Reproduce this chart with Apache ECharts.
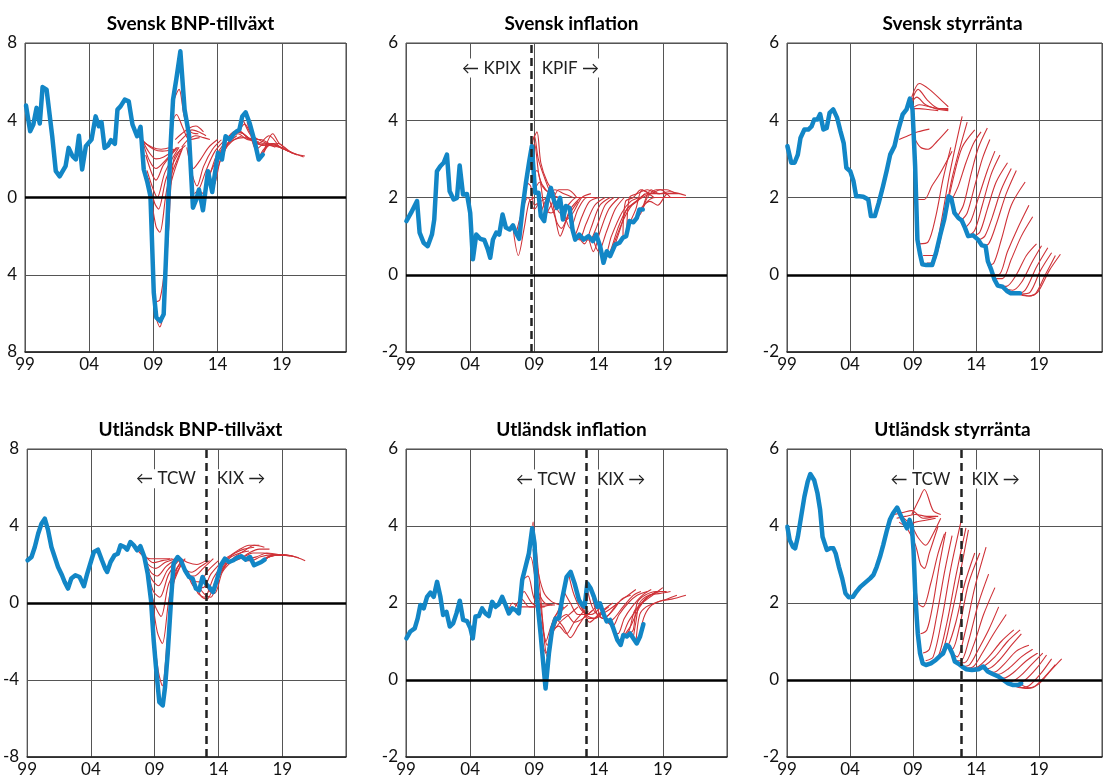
<!DOCTYPE html>
<html>
<head>
<meta charset="utf-8">
<script src="https://cdn.jsdelivr.net/npm/echarts@6/dist/echarts.min.js"></script>
<style>
  html, body { margin: 0; padding: 0; background: #fff; }
  #c { width: 1105px; height: 783px; }
</style>
</head>
<body>
<div id="c"></div>
<script>
// ---- Panel titles ----
const titles = ['Svensk BNP-tillväxt', 'Svensk inflation', 'Svensk styrränta',
                'Utländsk BNP-tillväxt', 'Utländsk inflation', 'Utländsk styrränta'];

// ---- X axis (years) ----
const yearMin = 1999, yearMax = 2024, yearStep = 5;

// ---- Regime breaks ----
const kpifStart = 2008.75;          // KPIX -> KPIF
const kixStart = [2013.05, 2013.05, 2012.8]; // TCW -> KIX (per foreign panel)

// ---- Svensk BNP-tillväxt: outcome [year, %] ----
const seGdpOutcome = [[1999.08,4.76],[1999.4,3.43],[1999.65,3.78],[1999.9,4.64],[2000.15,3.83],[2000.37,5.72],[2000.68,5.59],[2001.12,3.17],[2001.4,1.36],[2001.7,1.1],[2002.16,1.62],[2002.4,2.57],[2002.7,2.14],[2002.96,1.97],[2003.2,3.2],[2003.45,1.45],[2003.74,2.66],[2004.18,3.0],[2004.5,4.2],[2004.75,3.69],[2004.96,3.9],[2005.2,2.57],[2005.47,2.7],[2005.7,2.97],[2006.0,2.78],[2006.2,4.55],[2006.44,4.72],[2006.77,5.07],[2007.08,4.98],[2007.37,3.78],[2007.73,3.17],[2008.0,3.66],[2008.25,1.45],[2008.53,0.79],[2008.77,0.07],[2009.03,-4.93],[2009.23,-6.22],[2009.54,-6.4],[2009.8,-6.05],[2010.06,-1.83],[2010.35,2.83],[2010.53,5.07],[2010.8,6.19],[2011.1,7.57],[2011.43,4.55],[2011.77,3.26],[2012.08,-0.53],[2012.34,-0.1],[2012.55,0.41],[2012.86,-0.66],[2013.25,1.36],[2013.58,0.28],[2014.03,2.31],[2014.34,1.97],[2014.62,3.17],[2014.93,3.0],[2015.32,3.34],[2015.7,3.52],[2015.92,4.2],[2016.18,4.41],[2016.49,3.86],[2016.88,2.91],[2017.2,1.97],[2017.52,2.22]];
const seGdpForecasts = [
  [[2007.6,3.4],[2008.2,2.9],[2008.9,2.6],[2009.6,2.5],[2010.4,2.6]],
  [[2007.8,3.3],[2008.4,2.8],[2009.0,2.5],[2009.7,2.4],[2010.6,2.5]],
  [[2008.0,3.2],[2008.6,2.4],[2009.2,2.0],[2009.8,2.1],[2010.7,2.5]],
  [[2008.2,2.8],[2008.7,1.9],[2009.2,1.5],[2009.9,1.9],[2010.8,2.6]],
  [[2008.4,2.2],[2008.9,1.2],[2009.2,0.9],[2009.8,1.7],[2010.9,2.6]],
  [[2008.5,1.4],[2009.0,0.4],[2009.3,0.0],[2009.9,1.3],[2011.0,2.6]],
  [[2008.6,1.0],[2009.1,-0.3],[2009.4,-0.6],[2010.0,1.0],[2011.1,2.5]],
  [[2008.7,0.6],[2009.2,-1.5],[2009.5,-1.8],[2010.1,0.6],[2011.2,2.5]],
  [[2008.9,-0.8],[2009.2,-5.4],[2009.5,-5.3],[2009.9,-3.5],[2010.3,0.5],[2011.3,2.6]],
  [[2009.1,-6.0],[2009.5,-6.7],[2009.8,-5.8],[2010.2,-1.5],[2010.6,2.0],[2011.5,2.7]],
  [[2010.5,4.9],[2011.0,5.6],[2011.4,4.2],[2011.9,3.4],[2012.5,3.3]],
  [[2010.3,3.5],[2010.8,4.3],[2011.3,3.6],[2011.8,3.0],[2012.6,3.1]],
  [[2010.7,3.0],[2011.2,3.3],[2011.8,3.6],[2012.3,3.7],[2012.9,3.4]],
  [[2010.9,2.8],[2011.5,3.2],[2012.0,3.5],[2012.5,3.4],[2013.1,3.2]],
  [[2011.2,2.6],[2011.7,3.0],[2012.3,3.2],[2012.9,3.1],[2013.4,3.0]],
  [[2011.6,2.6],[2012.1,1.5],[2012.6,1.9],[2013.3,2.6],[2014.0,3.0]],
  [[2011.9,1.5],[2012.4,0.6],[2012.9,1.6],[2013.6,2.5],[2014.3,3.0]],
  [[2012.2,0.2],[2012.6,0.5],[2013.1,1.4],[2013.8,2.4],[2014.6,3.0]],
  [[2012.5,0.4],[2012.9,0.2],[2013.4,1.2],[2014.0,2.3],[2014.9,3.1]],
  [[2012.9,-0.4],[2013.3,1.0],[2013.8,1.8],[2014.5,2.6],[2015.2,3.1]],
  [[2013.3,1.3],[2013.7,0.6],[2014.2,1.9],[2014.8,2.8],[2015.5,3.2]],
  [[2013.6,0.5],[2014.0,1.5],[2014.5,2.4],[2015.1,2.9],[2015.9,3.2]],
  [[2014.1,2.3],[2014.6,2.7],[2015.3,3.0],[2016.0,3.1],[2016.9,3.0]],
  [[2014.4,2.1],[2014.9,2.9],[2015.6,3.3],[2016.3,3.0],[2017.2,2.9]],
  [[2014.7,3.0],[2015.3,3.4],[2016.0,3.3],[2016.8,2.9],[2017.6,2.8]],
  [[2015.0,3.0],[2015.5,3.5],[2016.2,3.2],[2017.0,2.8],[2017.9,2.7]],
  [[2015.3,3.3],[2015.8,3.4],[2016.5,3.0],[2017.3,3.0],[2018.2,2.7]],
  [[2015.7,3.5],[2016.1,3.8],[2016.7,3.2],[2017.5,2.9],[2018.5,2.6]],
  [[2016.0,4.0],[2016.5,3.3],[2017.2,2.8],[2018.0,3.2],[2018.8,2.6]],
  [[2016.3,3.9],[2016.8,3.0],[2017.5,2.7],[2018.2,2.8],[2019.1,2.5]],
  [[2016.6,3.2],[2017.0,2.5],[2017.7,2.8],[2018.5,2.7],[2019.5,2.4]],
  [[2016.9,2.6],[2017.3,2.0],[2018.0,2.7],[2018.8,2.6],[2019.8,2.3]],
  [[2017.2,2.0],[2017.6,2.5],[2018.3,2.8],[2019.2,2.5],[2020.2,2.2]],
  [[2017.5,2.3],[2018.0,2.7],[2018.7,2.8],[2019.6,2.4],[2020.7,2.1]],
  [[2017.6,2.4],[2018.3,3.3],[2018.8,2.8],[2019.8,2.3],[2020.8,2.15]]
];

// ---- Svensk inflation ----
const seCpiOutcome = [[1999.03,1.39],[1999.39,1.6],[1999.86,1.91],[2000.06,1.09],[2000.37,0.83],[2000.69,0.74],[2001.02,1.04],[2001.2,1.43],[2001.41,2.68],[2001.67,2.81],[2001.93,2.9],[2002.19,3.11],[2002.4,2.16],[2002.71,1.95],[2002.97,1.99],[2003.18,2.83],[2003.44,2.08],[2003.75,2.09],[2004.0,1.6],[2004.21,0.4],[2004.47,1.04],[2004.78,0.93],[2005.1,0.9],[2005.36,0.67],[2005.56,0.44],[2005.77,0.91],[2006.03,1.09],[2006.26,1.04],[2006.52,1.56],[2006.78,1.22],[2007.07,1.17],[2007.33,1.28],[2007.56,1.09],[2007.82,0.93],[2008.08,1.73],[2008.34,2.38],[2008.6,2.94],[2008.8,3.33],[2009.06,2.12],[2009.32,2.12],[2009.5,1.52],[2009.76,1.39],[2009.97,1.86],[2010.28,2.25],[2010.54,1.91],[2010.75,1.73],[2011.0,1.99],[2011.22,1.43],[2011.45,1.78],[2011.74,1.73],[2011.97,1.17],[2012.18,0.91],[2012.49,1.04],[2012.83,0.91],[2013.22,1.0],[2013.55,0.87],[2013.81,1.04],[2014.12,0.74],[2014.38,0.31],[2014.64,0.61],[2014.9,0.48],[2015.29,0.78],[2015.63,0.83],[2015.89,0.96],[2016.15,1.0],[2016.41,1.39],[2016.72,1.36],[2016.98,1.47],[2017.18,1.69],[2017.44,1.69]];
const seCpiForecasts = [
  [[2007.3,1.3],[2007.75,0.5],[2008.2,1.2],[2008.6,1.9],[2009.0,2.0]],
  [[2007.6,1.1],[2008.0,1.6],[2008.5,2.0],[2009.0,1.7],[2009.5,2.0]],
  [[2008.3,2.4],[2008.7,2.3],[2009.0,1.8],[2009.5,1.9],[2010.0,2.0]],
  [[2008.8,3.3],[2009.0,3.6],[2009.3,3.0],[2009.8,2.5],[2010.3,2.1],[2010.8,2.0]],
  [[2008.9,3.5],[2009.2,3.7],[2009.5,2.9],[2010.0,2.4],[2010.6,2.1]],
  [[2008.7,3.0],[2009.0,3.4],[2009.4,2.5],[2009.9,2.2],[2010.5,2.1]],
  [[2008.9,2.6],[2009.2,2.7],[2009.6,2.3],[2010.2,2.1],[2010.9,2.0]],
  [[2009.0,2.2],[2009.4,2.4],[2009.8,1.7],[2010.3,1.6],[2011.0,1.9]],
  [[2009.5,1.6],[2010.0,2.0],[2010.6,2.2],[2011.3,2.1],[2012.0,2.0]],
  [[2009.8,1.5],[2010.3,1.8],[2010.9,2.2],[2011.6,2.2],[2012.3,2.0]],
  [[2010.1,2.0],[2010.6,1.5],[2011.0,1.0],[2011.6,1.5],[2012.4,1.9]],
  [[2010.3,2.2],[2010.7,1.4],[2011.1,1.2],[2011.8,1.7],[2012.6,2.0]],
  [[2010.6,1.9],[2011.0,1.6],[2011.6,1.8],[2012.3,2.0],[2013.0,2.0]],
  [[2011.0,2.0],[2011.4,1.4],[2012.0,1.6],[2012.7,2.0],[2013.4,2.1]],
  [[2011.3,1.6],[2011.8,1.2],[2012.4,1.7],[2013.1,2.0],[2013.8,2.0]],
  [[2011.7,1.6],[2012.1,1.0],[2012.7,1.5],[2013.3,1.9],[2014.1,2.0]],
  [[2012.0,1.2],[2012.5,0.9],[2013.0,1.3],[2013.7,1.8],[2014.5,2.0]],
  [[2012.4,1.0],[2012.9,0.8],[2013.4,1.2],[2014.1,1.8],[2014.9,2.0]],
  [[2012.8,0.9],[2013.3,0.9],[2013.8,1.2],[2014.5,1.8],[2015.2,2.0]],
  [[2013.2,1.0],[2013.6,0.6],[2014.1,1.1],[2014.8,1.7],[2015.6,2.0]],
  [[2013.6,0.9],[2014.0,0.6],[2014.6,1.1],[2015.3,1.7],[2016.0,2.0]],
  [[2014.1,0.7],[2014.5,0.5],[2015.0,1.0],[2015.8,1.6],[2016.5,1.9],[2017.2,2.0]],
  [[2014.5,0.4],[2014.9,0.6],[2015.5,1.2],[2016.2,1.7],[2017.0,1.9],[2017.6,2.1]],
  [[2014.9,0.5],[2015.3,0.9],[2015.9,1.4],[2016.6,1.8],[2017.4,2.0],[2018.0,2.1]],
  [[2015.3,0.8],[2015.7,1.2],[2016.2,1.7],[2016.9,1.9],[2017.8,2.1],[2018.3,2.0]],
  [[2015.9,1.0],[2016.1,1.9],[2016.7,2.0],[2017.3,2.2],[2018.1,2.1],[2018.8,2.1]],
  [[2016.2,1.0],[2016.4,2.0],[2017.0,2.1],[2017.8,2.2],[2018.6,2.1],[2019.3,2.1]],
  [[2016.5,1.4],[2016.9,1.7],[2017.4,2.2],[2018.0,2.1],[2018.8,2.2],[2019.6,2.0]],
  [[2016.8,1.4],[2017.3,1.6],[2017.8,2.0],[2018.5,2.2],[2019.3,2.2],[2020.0,2.1]],
  [[2017.1,1.6],[2017.5,1.8],[2018.0,1.9],[2018.6,1.8],[2019.4,2.1],[2020.3,2.1]],
  [[2017.4,1.7],[2017.8,1.9],[2018.4,2.0],[2019.2,2.0],[2020.0,2.0],[2020.8,2.0]],
  [[2017.5,1.8],[2018.1,2.2],[2018.7,2.1],[2019.5,2.15],[2020.3,2.1],[2020.8,2.05]]
];

// ---- Svensk styrränta ----
const seRateOutcome = [[1999.03,3.33],[1999.34,2.9],[1999.6,2.9],[1999.86,3.11],[2000.07,3.54],[2000.38,3.76],[2000.69,3.76],[2000.95,3.84],[2001.16,4.02],[2001.42,4.02],[2001.63,4.16],[2001.89,3.76],[2002.15,3.8],[2002.38,4.19],[2002.67,4.28],[2002.98,4.06],[2003.24,3.72],[2003.5,3.41],[2003.71,2.77],[2004.02,2.68],[2004.28,2.42],[2004.49,2.03],[2004.75,2.03],[2005.06,2.02],[2005.45,1.95],[2005.66,1.52],[2005.97,1.52],[2006.28,1.86],[2006.62,2.29],[2006.93,2.72],[2007.19,3.11],[2007.53,3.33],[2007.84,3.76],[2008.18,4.15],[2008.49,4.28],[2008.75,4.56],[2008.96,4.28],[2009.17,2.81],[2009.35,0.91],[2009.56,0.53],[2009.74,0.27],[2010.05,0.25],[2010.52,0.25],[2010.83,0.57],[2011.17,1.04],[2011.48,1.43],[2011.82,2.03],[2012.03,1.99],[2012.29,1.6],[2012.6,1.47],[2012.86,1.41],[2013.12,1.22],[2013.38,1.0],[2013.77,1.02],[2014.16,0.91],[2014.47,0.76],[2014.76,0.74],[2014.94,0.35],[2015.2,0.14],[2015.46,-0.12],[2015.72,-0.28],[2016.11,-0.31],[2016.45,-0.42],[2016.76,-0.48],[2017.15,-0.48],[2017.49,-0.48]];
const seRateForecasts = [
  [[2008.9,4.6],[2009.5,4.95],[2010.3,4.8],[2011.3,4.5],[2011.8,4.35]],
  [[2008.9,4.5],[2009.4,4.8],[2010.2,4.5],[2011.1,4.3],[2011.8,4.3]],
  [[2008.8,4.4],[2009.3,4.6],[2010.0,4.4],[2010.8,4.3],[2011.8,4.25]],
  [[2008.9,4.3],[2009.5,4.4],[2010.3,4.35],[2011.0,4.3],[2011.8,4.28]],
  [[2008.9,4.3],[2009.5,4.3],[2010.2,4.28],[2011.0,4.25]],
  [[2007.9,3.5],[2008.6,3.6],[2009.4,3.7],[2010.3,3.77]],
  [[2009.1,3.55],[2009.6,3.3],[2010.2,3.25],[2010.9,3.45],[2011.8,3.77]],
  [[2009.35,1.95],[2009.9,1.95],[2010.5,2.3],[2011.1,2.6],[2012.1,3.2]],
  [[2009.5,0.8],[2010.2,0.85],[2010.8,1.5],[2011.4,2.5],[2012.0,3.3]],
  [[2009.8,0.5],[2010.6,0.5],[2011.2,1.3],[2011.9,2.6],[2012.9,4.1]],
  [[2010.1,0.3],[2010.7,0.35],[2011.3,1.1],[2012.1,2.5],[2013.3,3.95]],
  [[2011.2,1.0],[2011.6,1.6],[2012.2,2.5],[2012.9,3.3],[2013.9,3.75]],
  [[2012.1,1.95],[2012.6,2.3],[2013.2,2.9],[2013.8,3.4],[2014.4,3.7]],
  [[2012.5,1.5],[2013.0,1.8],[2013.6,2.6],[2014.2,3.3],[2014.9,3.8]],
  [[2012.8,1.4],[2013.3,1.6],[2013.9,2.3],[2014.5,3.0],[2015.1,3.5]],
  [[2013.1,1.2],[2013.6,1.4],[2014.2,2.0],[2014.9,2.7],[2015.5,3.2]],
  [[2013.4,1.0],[2013.9,1.15],[2014.5,1.8],[2015.2,2.6],[2015.9,3.1]],
  [[2013.8,1.0],[2014.3,1.1],[2014.9,1.7],[2015.6,2.4],[2016.5,2.9]],
  [[2014.2,0.9],[2014.7,1.0],[2015.3,1.5],[2016.0,2.2],[2016.8,2.75]],
  [[2014.5,0.75],[2015.0,0.8],[2015.6,1.3],[2016.4,2.1],[2017.2,2.7]],
  [[2014.9,0.25],[2015.4,0.3],[2016.0,0.9],[2016.8,1.8],[2017.9,2.4]],
  [[2015.2,0.0],[2015.8,0.0],[2016.5,0.6],[2017.3,1.2],[2018.2,1.8]],
  [[2015.5,-0.1],[2016.1,-0.1],[2016.8,0.4],[2017.6,1.0],[2018.5,1.5]],
  [[2015.8,-0.3],[2016.4,-0.3],[2017.2,0.0],[2018.0,0.5],[2018.8,0.8]],
  [[2016.2,-0.35],[2016.9,-0.4],[2017.6,-0.2],[2018.4,0.3],[2019.2,0.75]],
  [[2016.5,-0.45],[2017.2,-0.5],[2017.9,-0.4],[2018.8,0.2],[2019.7,0.7]],
  [[2016.9,-0.5],[2017.6,-0.5],[2018.3,-0.45],[2019.1,0.1],[2020.0,0.57]],
  [[2017.3,-0.5],[2018.0,-0.55],[2018.7,-0.5],[2019.5,0.0],[2020.3,0.5]],
  [[2017.5,-0.5],[2018.2,-0.55],[2018.9,-0.45],[2019.8,0.1],[2020.7,0.53]]
];

// ---- Utländsk BNP-tillväxt ----
const fgnGdpOutcome = [[1999.03,2.22],[1999.34,2.39],[1999.6,2.91],[1999.86,3.6],[2000.12,4.12],[2000.38,4.38],[2000.64,3.78],[2000.9,2.91],[2001.16,2.39],[2001.42,1.87],[2001.73,1.44],[2001.94,1.09],[2002.2,0.75],[2002.46,1.27],[2002.78,1.44],[2003.11,1.35],[2003.45,0.87],[2003.71,1.53],[2004.03,2.22],[2004.23,2.65],[2004.55,2.77],[2004.86,2.22],[2005.12,1.79],[2005.27,1.61],[2005.54,2.13],[2005.85,2.48],[2006.11,2.56],[2006.32,3.0],[2006.63,2.91],[2006.84,2.77],[2007.1,3.17],[2007.36,3.0],[2007.62,2.74],[2007.88,2.95],[2008.19,2.39],[2008.45,1.53],[2008.71,0.14],[2008.92,-1.94],[2009.1,-3.33],[2009.36,-5.15],[2009.63,-5.32],[2009.81,-4.37],[2010.02,-2.63],[2010.28,0.14],[2010.48,2.05],[2010.8,2.39],[2011.05,2.22],[2011.37,1.7],[2011.7,1.35],[2011.97,1.27],[2012.23,0.75],[2012.49,0.66],[2012.75,1.35],[2013.01,1.0],[2013.27,0.83],[2013.58,0.57],[2013.87,1.18],[2014.18,1.96],[2014.5,2.3],[2014.83,2.13],[2015.17,2.22],[2015.48,2.36],[2015.8,2.43],[2016.14,2.25],[2016.48,2.39],[2016.79,1.96],[2017.1,2.05],[2017.36,2.13],[2017.62,2.25]];
const fgnGdpForecasts = [
  [[2007.5,2.9],[2008.0,2.5],[2008.7,2.3],[2009.4,2.3],[2010.2,2.3]],
  [[2007.7,2.8],[2008.3,2.4],[2008.9,2.1],[2009.6,2.2],[2010.4,2.3]],
  [[2007.9,2.7],[2008.5,2.0],[2009.1,1.8],[2009.8,2.1],[2010.6,2.3]],
  [[2008.1,2.4],[2008.7,1.6],[2009.2,1.4],[2009.9,1.9],[2010.7,2.3]],
  [[2008.3,2.0],[2008.8,1.2],[2009.3,0.9],[2010.0,1.7],[2010.9,2.3]],
  [[2008.5,1.5],[2008.9,0.6],[2009.4,0.3],[2010.1,1.5],[2011.0,2.3]],
  [[2008.6,1.0],[2009.0,-0.1],[2009.5,-0.7],[2010.1,1.0],[2011.1,2.2]],
  [[2008.8,0.3],[2009.2,-1.5],[2009.6,-2.1],[2010.2,0.5],[2011.2,2.2]],
  [[2008.9,-1.5],[2009.3,-3.6],[2009.6,-4.3],[2010.0,-1.8],[2010.5,1.2],[2011.3,2.2]],
  [[2009.1,-3.0],[2009.5,-5.1],[2009.8,-4.2],[2010.2,-0.5],[2010.7,1.7],[2011.4,2.3]],
  [[2010.5,2.0],[2011.0,2.3],[2011.6,2.1],[2012.3,2.0],[2013.0,2.2]],
  [[2010.8,2.3],[2011.3,1.8],[2011.9,1.6],[2012.6,1.9],[2013.3,2.2]],
  [[2011.0,2.2],[2011.5,1.5],[2012.1,1.4],[2012.8,1.8],[2013.6,2.3]],
  [[2011.4,1.7],[2011.9,1.2],[2012.5,1.1],[2013.2,1.7],[2014.0,2.2]],
  [[2011.7,1.3],[2012.2,0.8],[2012.8,0.8],[2013.4,1.5],[2014.2,2.1]],
  [[2012.0,1.2],[2012.4,0.5],[2012.9,0.3],[2013.6,1.3],[2014.4,2.1]],
  [[2012.3,0.8],[2012.7,0.3],[2013.1,0.2],[2013.8,1.2],[2014.6,2.1]],
  [[2012.6,0.7],[2013.0,0.4],[2013.4,0.3],[2014.0,1.3],[2014.8,2.2]],
  [[2012.9,1.2],[2013.3,0.6],[2013.7,0.5],[2014.3,1.6],[2015.1,2.2]],
  [[2013.6,0.6],[2014.0,1.4],[2014.6,2.0],[2015.3,2.3],[2016.0,2.4]],
  [[2013.9,1.2],[2014.4,2.0],[2015.0,2.4],[2015.7,2.6],[2016.4,2.7]],
  [[2014.2,1.9],[2014.7,2.3],[2015.3,2.6],[2016.0,2.8],[2016.8,2.9]],
  [[2014.5,2.3],[2015.0,2.5],[2015.7,2.8],[2016.4,3.0],[2017.2,3.0]],
  [[2014.8,2.1],[2015.3,2.4],[2016.0,2.7],[2016.8,3.0],[2017.6,2.9]],
  [[2015.2,2.2],[2015.7,2.3],[2016.4,2.6],[2017.2,2.8],[2018.0,2.8]],
  [[2015.5,2.3],[2016.0,2.4],[2016.7,2.6],[2017.5,2.6],[2018.4,2.5]],
  [[2015.8,2.4],[2016.3,2.3],[2017.0,2.4],[2017.8,2.6],[2018.8,2.5]],
  [[2016.1,2.2],[2016.6,2.2],[2017.3,2.4],[2018.1,2.5],[2019.2,2.5]],
  [[2016.5,2.4],[2017.0,2.0],[2017.7,2.3],[2018.5,2.5],[2019.6,2.45]],
  [[2016.8,1.9],[2017.3,2.1],[2018.0,2.4],[2018.9,2.5],[2020.0,2.4]],
  [[2017.1,2.0],[2017.6,2.3],[2018.3,2.5],[2019.2,2.5],[2020.3,2.35]],
  [[2017.4,2.1],[2018.0,2.4],[2018.8,2.5],[2019.7,2.45],[2020.8,2.2]]
];

// ---- Utländsk inflation ----
const fgnCpiOutcome = [[1999.03,1.08],[1999.34,1.26],[1999.68,1.34],[1999.91,1.6],[2000.12,1.95],[2000.38,1.86],[2000.64,2.16],[2000.9,2.27],[2001.16,2.16],[2001.42,2.55],[2001.68,2.16],[2001.89,1.69],[2002.15,1.77],[2002.41,1.39],[2002.67,1.47],[2002.93,1.73],[2003.19,2.06],[2003.45,1.56],[2003.76,1.53],[2004.02,1.34],[2004.2,1.08],[2004.41,1.65],[2004.67,1.66],[2004.93,1.86],[2005.19,1.73],[2005.45,1.66],[2005.71,2.03],[2005.97,1.9],[2006.23,1.97],[2006.49,2.16],[2006.75,1.95],[2007.01,1.73],[2007.27,1.86],[2007.53,1.82],[2007.79,1.73],[2008.05,2.6],[2008.31,2.94],[2008.57,3.29],[2008.83,3.94],[2009.01,3.55],[2009.22,2.08],[2009.48,1.21],[2009.69,0.43],[2009.87,-0.22],[2010.13,0.69],[2010.39,1.34],[2010.65,1.6],[2010.91,1.6],[2011.17,2.12],[2011.51,2.68],[2011.82,2.81],[2012.13,2.51],[2012.47,2.08],[2012.73,1.95],[2012.91,1.9],[2013.12,2.51],[2013.38,2.38],[2013.64,2.16],[2013.9,1.9],[2014.11,1.99],[2014.37,1.73],[2014.63,1.52],[2014.89,1.56],[2015.15,1.34],[2015.46,1.04],[2015.72,0.91],[2015.93,1.17],[2016.19,1.13],[2016.45,1.21],[2016.71,1.08],[2016.97,0.95],[2017.23,1.13],[2017.49,1.45]];
const fgnCpiForecasts = [
  [[2006.9,1.7],[2007.3,2.0],[2007.8,1.9],[2008.4,1.9],[2009.0,1.9]],
  [[2007.5,1.9],[2008.0,2.1],[2008.6,1.9],[2009.2,1.9],[2009.8,1.9]],
  [[2007.8,1.8],[2008.2,2.3],[2008.8,2.0],[2009.5,1.9],[2010.2,1.95]],
  [[2008.1,2.6],[2008.5,2.7],[2009.0,2.1],[2009.6,1.95],[2010.4,1.95]],
  [[2008.3,2.9],[2008.7,3.2],[2009.2,2.4],[2009.8,2.0],[2010.6,1.95]],
  [[2008.6,3.3],[2008.9,4.1],[2009.2,3.0],[2009.7,2.3],[2010.3,2.05],[2011.0,1.95]],
  [[2008.8,3.8],[2009.1,3.5],[2009.5,2.1],[2009.9,1.0],[2010.3,1.4],[2011.0,1.9]],
  [[2008.9,3.4],[2009.2,2.6],[2009.6,1.6],[2010.0,0.6],[2010.5,1.3],[2011.2,1.9]],
  [[2009.2,2.1],[2009.6,1.4],[2010.0,0.9],[2010.5,1.6],[2011.3,1.9]],
  [[2009.5,1.2],[2009.9,0.7],[2010.3,1.1],[2010.9,1.7],[2011.6,1.95]],
  [[2010.0,0.5],[2010.4,1.2],[2011.0,1.5],[2011.7,1.7],[2012.4,1.9]],
  [[2010.4,1.3],[2010.9,1.4],[2011.5,1.2],[2012.1,1.5],[2012.9,1.8]],
  [[2010.7,1.6],[2011.2,1.4],[2011.8,1.1],[2012.4,1.4],[2013.2,1.8]],
  [[2011.0,1.6],[2011.5,1.7],[2012.1,1.5],[2012.8,1.6],[2013.5,1.8]],
  [[2011.3,2.3],[2011.8,2.0],[2012.4,1.7],[2013.0,1.7],[2013.8,1.9]],
  [[2011.7,2.7],[2012.1,2.2],[2012.7,1.8],[2013.4,1.7],[2014.2,1.9]],
  [[2012.0,2.6],[2012.4,2.1],[2013.0,1.7],[2013.7,1.6],[2014.5,1.8]],
  [[2012.4,2.2],[2012.8,1.8],[2013.3,1.5],[2014.0,1.7],[2014.8,1.9]],
  [[2012.8,1.9],[2013.2,1.6],[2013.7,1.6],[2014.3,1.8],[2015.1,2.0]],
  [[2013.1,2.4],[2013.5,1.9],[2014.0,1.7],[2014.7,1.8],[2015.5,2.0]],
  [[2013.5,2.2],[2013.9,1.7],[2014.4,1.6],[2015.1,1.8],[2015.8,2.1],[2016.5,2.2]],
  [[2013.9,1.9],[2014.3,1.6],[2014.8,1.7],[2015.5,2.0],[2016.3,2.2],[2016.9,2.35]],
  [[2014.3,1.7],[2014.7,1.5],[2015.2,1.6],[2015.9,1.9],[2016.7,2.2],[2017.3,2.3]],
  [[2014.7,1.5],[2015.1,1.4],[2015.6,1.7],[2016.3,2.0],[2017.0,2.2],[2017.8,2.3]],
  [[2015.1,1.3],[2015.5,1.2],[2016.0,1.6],[2016.6,1.9],[2017.4,2.2],[2018.1,2.35]],
  [[2015.5,1.0],[2015.8,1.1],[2016.3,1.5],[2016.9,1.8],[2017.6,2.1],[2018.5,2.3]],
  [[2015.8,0.95],[2016.1,1.2],[2016.5,1.4],[2017.2,1.9],[2018.0,2.2],[2018.8,2.3]],
  [[2016.1,1.15],[2016.4,1.3],[2016.8,1.8],[2017.4,2.0],[2018.2,2.2],[2019.0,2.4]],
  [[2016.4,1.2],[2016.7,1.3],[2017.0,2.0],[2017.6,2.2],[2018.5,2.3],[2019.3,2.3]],
  [[2016.7,1.1],[2016.9,1.5],[2017.2,2.0],[2017.9,2.2],[2018.8,2.25],[2019.6,2.3]],
  [[2016.9,0.95],[2017.2,1.7],[2017.7,1.9],[2018.4,2.0],[2019.3,2.1],[2020.1,2.2]],
  [[2017.2,1.1],[2017.5,1.6],[2018.0,1.9],[2018.8,2.05],[2019.7,2.1],[2020.8,2.2]]
];

// ---- Utländsk styrränta ----
const fgnRateOutcome = [[1999.03,3.98],[1999.21,3.64],[1999.47,3.46],[1999.65,3.42],[1999.86,3.72],[2000.12,4.24],[2000.38,4.76],[2000.64,5.15],[2000.85,5.35],[2001.16,5.19],[2001.42,4.85],[2001.63,4.42],[2001.82,3.72],[2002.16,3.38],[2002.42,3.42],[2002.68,3.42],[2002.86,3.29],[2003.12,2.94],[2003.38,2.64],[2003.64,2.25],[2003.9,2.15],[2004.24,2.16],[2004.5,2.29],[2004.82,2.42],[2005.21,2.53],[2005.6,2.64],[2005.86,2.73],[2006.12,2.94],[2006.38,3.2],[2006.64,3.51],[2006.9,3.85],[2007.16,4.16],[2007.42,4.33],[2007.74,4.48],[2008.0,4.29],[2008.26,4.11],[2008.52,3.94],[2008.73,4.16],[2008.91,3.98],[2009.04,3.38],[2009.2,2.08],[2009.38,1.21],[2009.56,0.69],[2009.77,0.43],[2010.03,0.39],[2010.42,0.43],[2010.81,0.52],[2011.13,0.62],[2011.39,0.69],[2011.65,0.91],[2011.86,0.87],[2012.12,0.69],[2012.32,0.48],[2012.58,0.43],[2012.9,0.35],[2013.21,0.28],[2013.68,0.26],[2014.2,0.28],[2014.59,0.35],[2014.93,0.22],[2015.24,0.17],[2015.77,0.09],[2016.16,0.0],[2016.55,-0.09],[2016.94,-0.13],[2017.33,-0.13],[2017.59,-0.09]];
const fgnRateForecasts = [
  [[2007.5,4.3],[2008.2,4.35],[2008.9,4.4],[2009.8,4.2],[2010.8,4.25]],
  [[2007.7,4.2],[2008.4,4.25],[2009.2,4.3],[2010.1,4.25],[2011.0,4.25]],
  [[2007.9,4.1],[2008.5,4.0],[2009.2,4.1],[2010.0,4.15],[2010.8,4.2]],
  [[2008.9,4.3],[2009.5,4.7],[2009.9,4.95],[2010.6,4.4],[2011.2,4.3]],
  [[2008.3,4.2],[2008.9,4.0],[2009.4,3.7],[2010.0,3.5],[2010.6,3.8],[2011.2,4.2]],
  [[2008.6,3.9],[2009.2,3.5],[2009.6,3.0],[2009.9,2.9],[2010.3,3.3],[2011.0,4.0]],
  [[2009.0,3.3],[2009.4,2.0],[2009.8,1.9],[2010.4,2.5],[2011.0,3.3],[2011.5,3.8]],
  [[2009.6,1.2],[2010.1,1.3],[2010.6,2.0],[2011.1,3.0],[2011.6,3.85]],
  [[2009.8,0.7],[2010.3,0.8],[2010.9,1.7],[2011.5,2.8],[2012.1,3.75]],
  [[2010.0,0.5],[2010.6,0.6],[2011.3,1.6],[2012.0,2.9],[2012.9,4.25]],
  [[2010.4,0.45],[2011.0,0.6],[2011.7,1.5],[2012.4,2.7],[2013.2,3.95]],
  [[2010.8,0.55],[2011.4,0.8],[2012.0,1.6],[2012.7,2.7],[2013.4,3.9]],
  [[2011.2,0.65],[2011.8,0.9],[2012.4,1.5],[2013.1,2.5],[2013.9,3.3]],
  [[2011.6,0.9],[2012.1,0.8],[2012.7,1.4],[2013.4,2.5],[2014.3,3.3]],
  [[2012.0,0.75],[2012.5,0.6],[2013.1,1.2],[2013.9,2.4],[2014.8,3.45]],
  [[2012.3,0.5],[2012.8,0.5],[2013.4,1.0],[2014.2,2.0],[2015.0,2.75]],
  [[2012.6,0.45],[2013.1,0.45],[2013.8,0.9],[2014.6,1.7],[2015.5,2.4]],
  [[2012.9,0.35],[2013.5,0.4],[2014.2,0.8],[2015.0,1.3],[2015.8,1.9]],
  [[2013.2,0.3],[2013.8,0.35],[2014.5,0.7],[2015.4,1.2],[2016.4,1.7]],
  [[2013.6,0.28],[2014.2,0.35],[2015.0,0.6],[2016.0,1.0],[2017.0,1.3]],
  [[2014.0,0.28],[2014.6,0.35],[2015.5,0.6],[2016.5,1.0],[2017.5,1.3]],
  [[2014.4,0.3],[2015.0,0.3],[2015.8,0.5],[2016.8,0.9],[2017.6,1.2]],
  [[2014.8,0.25],[2015.4,0.2],[2016.2,0.4],[2017.2,0.75],[2018.2,0.9]],
  [[2015.2,0.17],[2015.8,0.15],[2016.6,0.3],[2017.6,0.6],[2018.5,0.8]],
  [[2015.6,0.1],[2016.2,0.05],[2017.0,0.2],[2018.0,0.5],[2018.9,0.7]],
  [[2016.0,0.0],[2016.7,-0.05],[2017.5,0.1],[2018.4,0.4],[2019.3,0.7]],
  [[2016.4,-0.08],[2017.1,-0.12],[2017.9,0.0],[2018.8,0.3],[2019.6,0.65]],
  [[2016.8,-0.12],[2017.5,-0.2],[2018.2,-0.15],[2019.1,0.15],[2020.0,0.55]],
  [[2017.2,-0.13],[2017.9,-0.22],[2018.6,-0.18],[2019.5,0.1],[2020.3,0.4]],
  [[2017.5,-0.1],[2018.2,-0.2],[2019.0,-0.1],[2019.8,0.2],[2020.8,0.55]]
];

// ---- Panel definitions ----
const panels = [
  { title: titles[0], outcome: seGdpOutcome,  forecasts: seGdpForecasts,  yMin: -8, yMax: 8, yStep: 4, absLabels: true },
  { title: titles[1], outcome: seCpiOutcome,  forecasts: seCpiForecasts,  yMin: -2, yMax: 6, yStep: 2,
    breakAt: kpifStart, leftText: '← KPIX', rightText: 'KPIF →', textY: 5.35 },
  { title: titles[2], outcome: seRateOutcome, forecasts: seRateForecasts, yMin: -2, yMax: 6, yStep: 2 },
  { title: titles[3], outcome: fgnGdpOutcome, forecasts: fgnGdpForecasts, yMin: -8, yMax: 8, yStep: 4,
    breakAt: kixStart[0], leftText: '← TCW', rightText: 'KIX →', textY: 6.45 },
  { title: titles[4], outcome: fgnCpiOutcome, forecasts: fgnCpiForecasts, yMin: -2, yMax: 6, yStep: 2,
    breakAt: kixStart[1], leftText: '← TCW', rightText: 'KIX →', textY: 5.22 },
  { title: titles[5], outcome: fgnRateOutcome, forecasts: fgnRateForecasts, yMin: -2, yMax: 6, yStep: 2,
    breakAt: kixStart[2], leftText: '← TCW', rightText: 'KIX →', textY: 5.22 }
];

// ---- Layout ----
const FONT = 'Lato, "Open Sans", "DejaVu Sans", sans-serif';
const BLUE = '#1286c6', RED = '#cf3238', GRIDC = '#555';
const colLeft = [25, 406, 787];
const rowTop = [43, 449];
const rowH = [309, 308];
const titleTop = [9, 415];
const plotW = 321;

const grids = [], xAxes = [], yAxes = [], series = [], titleOpts = [];

panels.forEach((p, i) => {
  const col = i % 3, row = Math.floor(i / 3);
  grids.push({ left: colLeft[col], top: rowTop[row], width: plotW, height: rowH[row],
               show: true, borderColor: '#444', borderWidth: 1, backgroundColor: '#fff' });
  xAxes.push({
    gridIndex: i, type: 'value', min: yearMin, max: yearMax, interval: yearStep,
    axisLine: { show: true, onZero: false, lineStyle: { color: '#222', width: 1.5 } },
    axisTick: { show: false },
    splitLine: { show: true, lineStyle: { color: GRIDC, width: 1 } },
    axisLabel: { fontSize: 17, color: '#111', fontFamily: FONT, margin: 4,
      formatter: v => v >= yearMax ? '' : String(v % 100).padStart(2, '0') }
  });
  yAxes.push({
    gridIndex: i, type: 'value', min: p.yMin, max: p.yMax, interval: p.yStep,
    axisLine: { show: false }, axisTick: { show: false },
    splitLine: { show: true, lineStyle: { color: GRIDC, width: 1 } },
    axisLabel: { fontSize: 17, color: '#111', fontFamily: FONT, margin: 8,
      formatter: v => p.absLabels ? String(Math.abs(v)) : String(v) }
  });
  titleOpts.push({
    text: p.title, left: colLeft[col] + plotW / 2, top: titleTop[row], textAlign: 'center',
    textStyle: { fontSize: 19, fontWeight: 'bold', color: '#000', fontFamily: FONT }
  });

  // Reference lines: zero line and (where relevant) the dashed regime break
  const lines = [{ yAxis: 0, lineStyle: { color: '#000', width: 2.5, type: 'solid' } }];
  if (p.breakAt) lines.push({ xAxis: p.breakAt, lineStyle: { color: '#222', width: 2.5, type: [8, 5] } });
  const marks = p.breakAt ? [
    { coord: [p.breakAt, p.textY], label: { formatter: p.leftText, position: 'left', distance: 6 } },
    { coord: [p.breakAt, p.textY], label: { formatter: p.rightText, position: 'right', distance: 6 } }
  ] : [];
  series.push({
    type: 'line', xAxisIndex: i, yAxisIndex: i, data: [], z: 1, silent: true,
    markLine: { silent: true, symbol: 'none', label: { show: false }, data: lines, animation: false },
    markPoint: { silent: true, symbol: 'rect', symbolSize: 1, itemStyle: { color: 'rgba(0,0,0,0)' },
      label: { show: true, fontSize: 17, color: '#222', fontFamily: FONT,
               backgroundColor: '#fff', padding: [1, 4] },
      data: marks, animation: false }
  });

  // Forecast paths (thin red)
  p.forecasts.forEach(f => {
    series.push({
      type: 'line', xAxisIndex: i, yAxisIndex: i, data: f, z: 2, silent: true,
      showSymbol: false, symbol: 'none', smooth: 0.3,
      lineStyle: { color: RED, width: 1.1 }
    });
  });

  // Outcome (thick blue)
  series.push({
    type: 'line', xAxisIndex: i, yAxisIndex: i, data: p.outcome, z: 3, silent: true,
    showSymbol: false, symbol: 'none',
    lineStyle: { color: BLUE, width: 4.5, cap: 'round', join: 'round' }
  });
});

const chart = echarts.init(document.getElementById('c'));
chart.setOption({
  animation: false,
  backgroundColor: '#fff',
  title: titleOpts,
  grid: grids,
  xAxis: xAxes,
  yAxis: yAxes,
  series: series
});
</script>
</body>
</html>
